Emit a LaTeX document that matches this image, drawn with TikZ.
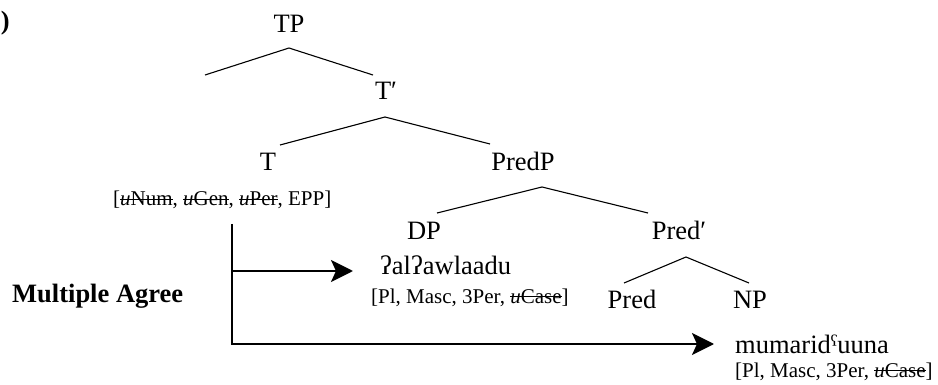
\documentclass[tikz,border=0pt]{standalone}
\usepackage{fontspec}
\setmainfont{Liberation Serif}
\usetikzlibrary{arrows.meta}
\newcommand{\bigsz}{\fontsize{26.5}{30}\selectfont}
\newcommand{\smallsz}{\fontsize{21}{24}\selectfont}
\newcommand{\unf}[1]{\leavevmode\setbox0=\hbox{\textit{u}#1}\rlap{\raisebox{0.27em}{\rule{\wd0}{0.9pt}}}\box0}
\tikzset{
  lbl/.style={inner sep=0pt, font=\bigsz, anchor=base},
  feat/.style={inner sep=0pt, font=\smallsz, anchor=base west},
  branch/.style={line width=1.1pt},
  agree/.style={line width=2.2pt, line join=miter, -{Stealth[length=22pt,width=22pt,inset=5pt]}}
}
\begin{document}
\begin{tikzpicture}[x=1pt,y=-1pt]
\useasboundingbox (0,0) rectangle (938,385);
% labels
\node[lbl, anchor=base east, font=\bigsz\bfseries] (paren) at (10,30) {)};
\node[lbl] (TP) at (289,33) {TP};
\node[lbl] (Tbar) at (386,100) {T′};
\node[lbl] (T) at (268,171) {T};
\node[feat] (Tfeat) at (113,206) {[\unf{Num}, \unf{Gen}, \unf{Per}, EPP]};
\node[lbl] (PredP) at (523,171) {PredP};
\node[lbl] (DP) at (424,240) {DP};
\node[lbl, anchor=base west] (DPword) at (380,274) {ʔalʔawlaadu};
\node[feat] (DPfeat) at (371,303) {[Pl, Masc, 3Per, \unf{Case}]};
\node[lbl] (Predbar) at (679,240) {Pred′};
\node[lbl] (Pred) at (632,308) {Pred};
\node[lbl] (NP) at (750,308) {NP};
\node[lbl, anchor=base west] (NPword) at (735,353) {mumaridˤuuna};
\node[feat] (NPfeat) at (735,377) {[Pl, Masc, 3Per, \unf{Case}]};
\node[lbl, anchor=base west, font=\bigsz\bfseries] (MA) at (12,302) {Multiple Agree};
% branch points
\coordinate (TPa) at (289,48);  \coordinate (TPl) at (205,75);  \coordinate (TPr) at (373,75);
\coordinate (Ta) at (385,117);  \coordinate (Tl) at (280,145);  \coordinate (Tr) at (490,144);
\coordinate (Pa) at (542,187);  \coordinate (Pl) at (437,213);  \coordinate (Pr) at (648,213);
\coordinate (Qa) at (686,257);  \coordinate (Ql) at (624,283);  \coordinate (Qr) at (749,283);
\draw[branch] (TPl) -- (TPa) -- (TPr);
\draw[branch] (Tl) -- (Ta) -- (Tr);
\draw[branch] (Pl) -- (Pa) -- (Pr);
\draw[branch] (Ql) -- (Qa) -- (Qr);
% agree arrows
\coordinate (vtop) at (232,224);
\coordinate (v1) at (232,271);
\coordinate (a1) at (353,271);
\coordinate (vbot) at (232,344);
\coordinate (a2) at (714,344);
\draw[agree] (vtop) -- (vbot) -- (a2);
\draw[agree] (v1) -- (a1);
\end{tikzpicture}
\end{document}
